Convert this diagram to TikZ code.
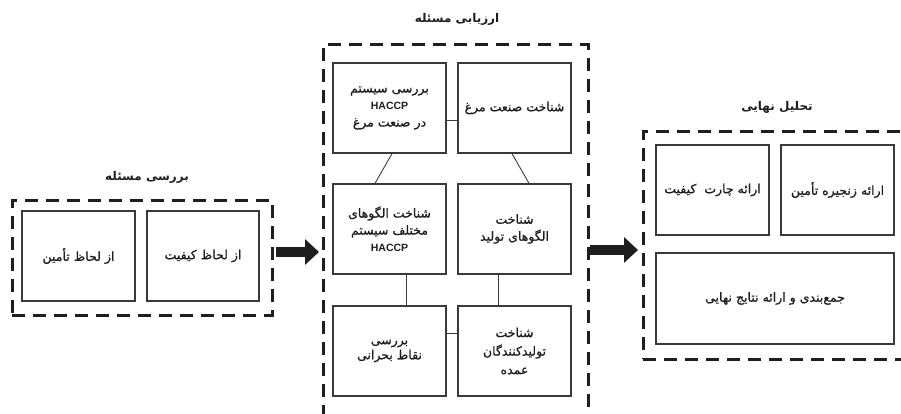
\documentclass[tikz,border=0pt]{standalone}
\usepackage{fontspec}
\setmainfont{DejaVu Sans}
\newfontfamily\fa[Script=Arabic,FakeBold=0.8]{DejaVu Sans}
\newfontfamily\fat[Script=Arabic]{DejaVu Sans}
\newfontfamily\lat{Liberation Sans}
\TeXXeTstate=1
\usetikzlibrary{arrows.meta,calc}
\newcommand{\rl}[1]{\beginR #1\endR}
\newcommand{\hac}{{\lat\bfseries\fontsize{10.5}{17}\selectfont HACCP}}
\definecolor{boxgray}{HTML}{3A3A3A}
\definecolor{ink}{HTML}{1E1E1E}
\begin{document}
\begin{tikzpicture}[x=1pt,y=-1pt,
  box/.style={draw=boxgray, line width=1.2pt, minimum width=113pt, minimum height=90pt,
    inner sep=0pt, align=center, text=ink, font=\fa\fontsize{12.5}{17}\selectfont},
  group/.style={draw=ink, line width=3pt, dash pattern=on 13pt off 8pt, inner sep=0pt},
  gtitle/.style={text=ink, font=\fat\bfseries\fontsize{12}{14}\selectfont},
  conn/.style={draw=boxgray, line width=0.9pt},
  bigarrow/.style={draw=ink, line width=10pt, -{Triangle[length=14pt,width=25pt]}}]
\useasboundingbox (0,0) rectangle (901,414);
\fill[white] (0,0) rectangle (901,414);

% group boxes
\node[group, minimum width=260pt, minimum height=115pt] (g1) at (142,257.5) {};
\node[group, minimum width=265pt, minimum height=370pt] (g2) at (455.5,230) {};
\node[group, minimum width=267pt, minimum height=227pt] (g3) at (776.5,245.5) {};

% titles
\node[gtitle] (t1) at (147,177) {\rl{بررسی مسئله}};
\node[gtitle] (t2) at (457,19) {\rl{ارزیابی مسئله}};
\node[gtitle] (t3) at (777,107) {\rl{تحلیل نهایی}};

% left group
\node[box, minimum width=112pt] (b11) at (203,256) {\rl{از لحاظ کیفیت}};
\node[box] (b12) at (78.5,256) {\rl{از لحاظ تأمین}};

% middle group
\node[box] (m11) at (389.5,108) {\rl{بررسی سیستم}\\\hac\\\rl{در صنعت مرغ}};
\node[box] (m12) at (514.5,108) {\rl{شناخت صنعت مرغ}};
\node[box] (m21) at (389.5,229) {\rl{شناخت الگوهای}\\\rl{مختلف سیستم}\\\hac};
\node[box] (m22) at (514.5,229) {\rl{شناخت}\\\rl{الگوهای تولید}};
\node[box, font=\fa\fontsize{12.5}{15}\selectfont] (m31) at (389.5,351) {\rl{بررسی}\\\rl{نقاط بحرانی}};
\node[box, font=\fa\fontsize{12.5}{18.5}\selectfont] (m32) at (514.5,351) {\rl{شناخت}\\\rl{تولیدکنندگان}\\\rl{عمده}};

% right group
\node[box] (r11) at (712.5,190) {\rl{ارائه چارت\ \ کیفیت}};
\node[box] (r12) at (837.5,190) {\rl{ارائه زنجیره تأمین}};
\node[box, minimum width=238pt, minimum height=91pt] (r2) at (775,298.5) {\rl{جمع‌بندی و ارائه نتایج نهایی}};

% connectors inside middle group
\coordinate (c1) at ($(m11.east)+(0,12)$);
\draw[conn] (c1) -- (c1 -| m12.west);
\draw[conn] ($(m11.south)+(2.5,0)$) -- ($(m21.north)+(-14.5,0)$);
\draw[conn] ($(m12.south)+(-2.5,0)$) -- ($(m22.north)+(14.5,0)$);
\draw[conn] ($(m21.south)+(16.5,0)$) -- ($(m31.north)+(16.5,0)$);
\draw[conn] ($(m22.south)+(-16.5,0)$) -- ($(m32.north)+(-16.5,0)$);
\coordinate (c6) at ($(m31.east)+(0,-18)$);
\draw[conn] (c6) -- (c6 -| m32.west);

% big arrows between groups
\coordinate (a1) at (0,252);
\coordinate (a2) at (0,250);
\draw[bigarrow, shorten <=2pt, shorten >=2.5pt] (g1.east |- a1) -- (g2.west |- a1);
\draw[bigarrow, shorten <=0pt, shorten >=3.5pt] (g2.east |- a2) -- (g3.west |- a2);
\end{tikzpicture}
\end{document}
